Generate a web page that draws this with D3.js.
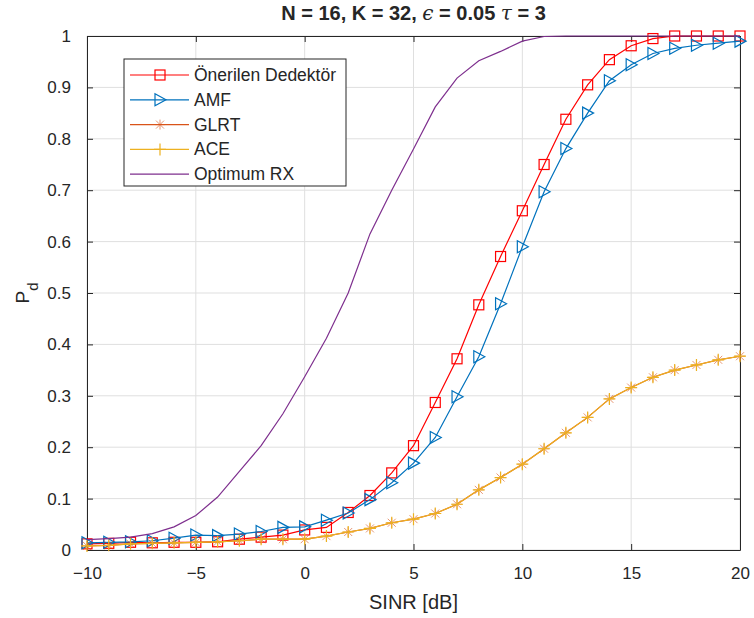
<!DOCTYPE html>
<html>
<head>
<meta charset="utf-8">
<script src="https://cdn.jsdelivr.net/npm/d3@7"></script>
<style>
  body { margin: 0; background: #fff; }
  text { font-family: "Liberation Sans", Arial, sans-serif; }
</style>
</head>
<body>
<div id="chart"></div>
<script>
const sinr = d3.range(-10, 21, 1);
const proposed = [0.012, 0.013, 0.015, 0.014, 0.015, 0.015, 0.016, 0.021, 0.025, 0.029, 0.039, 0.044, 0.073, 0.106, 0.150, 0.203, 0.287, 0.372, 0.477, 0.571, 0.660, 0.750, 0.838, 0.905, 0.954, 0.981, 0.995, 1.0, 1.0, 1.0, 1.0];
const amf = [0.014, 0.015, 0.016, 0.018, 0.023, 0.029, 0.028, 0.031, 0.036, 0.044, 0.045, 0.058, 0.072, 0.098, 0.131, 0.169, 0.219, 0.298, 0.376, 0.479, 0.590, 0.697, 0.781, 0.850, 0.913, 0.944, 0.966, 0.976, 0.982, 0.986, 0.990];
const glrt = [0.008, 0.009, 0.012, 0.013, 0.014, 0.015, 0.016, 0.018, 0.021, 0.021, 0.021, 0.027, 0.035, 0.042, 0.053, 0.060, 0.071, 0.089, 0.117, 0.141, 0.167, 0.197, 0.228, 0.258, 0.294, 0.316, 0.336, 0.350, 0.360, 0.370, 0.377];
const ace = [0.008, 0.009, 0.012, 0.013, 0.014, 0.015, 0.016, 0.018, 0.021, 0.021, 0.021, 0.027, 0.035, 0.042, 0.053, 0.060, 0.071, 0.089, 0.117, 0.141, 0.167, 0.197, 0.228, 0.258, 0.294, 0.316, 0.336, 0.350, 0.360, 0.370, 0.377];
const optimum = [0.020, 0.022, 0.025, 0.032, 0.045, 0.067, 0.103, 0.153, 0.203, 0.265, 0.337, 0.412, 0.500, 0.615, 0.700, 0.780, 0.862, 0.918, 0.952, 0.970, 0.990, 0.999, 1.0, 1.0, 1.0, 1.0, 1.0, 1.0, 1.0, 1.0, 1.0];

const xTicks = [-10, -5, 0, 5, 10, 15, 20];
const yTicks = d3.range(0, 1.01, 0.1);

const seriesList = [
  { name: 'Önerilen Dedektör', values: proposed, color: '#ff0000', marker: 'square' },
  { name: 'AMF', values: amf, color: '#0072bd', marker: 'triangle' },
  { name: 'GLRT', values: glrt, color: '#d95319', marker: 'star' },
  { name: 'ACE', values: ace, color: '#edb120', marker: 'plus' },
  { name: 'Optimum RX', values: optimum, color: '#7e2f8e', marker: null }
];

const W = 754, H = 618;
const margin = { top: 36, right: 14, bottom: 68, left: 87 };
const width = W - margin.left - margin.right;
const height = H - margin.top - margin.bottom;

const svg = d3.select('#chart')
  .append('svg')
  .attr('width', W)
  .attr('height', H);

const g = svg.append('g')
  .attr('transform', `translate(${margin.left},${margin.top})`);

const x = d3.scaleLinear().domain([-10, 20]).range([0, width]);
const y = d3.scaleLinear().domain([0, 1]).range([height, 0]);

// grid
g.append('g').selectAll('line').data(xTicks).join('line')
  .attr('x1', d => x(d)).attr('x2', d => x(d))
  .attr('y1', 0).attr('y2', height)
  .attr('stroke', '#dfdfdf').attr('stroke-width', 1);
g.append('g').selectAll('line').data(yTicks).join('line')
  .attr('x1', 0).attr('x2', width)
  .attr('y1', d => y(d)).attr('y2', d => y(d))
  .attr('stroke', '#dfdfdf').attr('stroke-width', 1);

// axes (ticks pointing inward, box on)
const axisColor = '#262626';
const styleAxis = sel => {
  sel.select('.domain').attr('stroke', axisColor);
  sel.selectAll('.tick line').attr('stroke', axisColor);
  sel.selectAll('.tick text').attr('fill', axisColor).style('font-size', '17px');
};

g.append('g')
  .attr('transform', `translate(0,${height})`)
  .call(d3.axisBottom(x).tickValues(xTicks).tickSizeInner(-6).tickSizeOuter(0).tickPadding(17))
  .call(styleAxis);
g.append('g')
  .call(d3.axisLeft(y).tickValues(yTicks).tickFormat(d3.format('~g')).tickSizeInner(-6).tickSizeOuter(0).tickPadding(16))
  .call(styleAxis);
g.append('g')
  .call(d3.axisTop(x).tickValues(xTicks).tickSizeInner(-6).tickSizeOuter(0).tickFormat(''))
  .call(styleAxis);
g.append('g')
  .attr('transform', `translate(${width},0)`)
  .call(d3.axisRight(y).tickValues(yTicks).tickSizeInner(-6).tickSizeOuter(0).tickFormat(''))
  .call(styleAxis);

// marker drawing
function drawMarker(sel, type, color) {
  if (type === 'square') {
    sel.append('rect').attr('x', -5).attr('y', -5).attr('width', 10).attr('height', 10)
      .attr('fill', 'none').attr('stroke', color).attr('stroke-width', 1.2);
  } else if (type === 'triangle') {
    sel.append('path').attr('d', 'M6,0L-5,-6L-5,6Z')
      .attr('fill', 'none').attr('stroke', color).attr('stroke-width', 1.2);
  } else if (type === 'star') {
    sel.append('path').attr('d', 'M-4,-4L4,4M-4,4L4,-4M0,-5L0,5M-5,0L5,0')
      .attr('stroke', color).attr('stroke-width', 1).attr('opacity', 0.6);
  } else if (type === 'plus') {
    sel.append('path').attr('d', 'M0,-6L0,6M-6,0L6,0')
      .attr('stroke', color).attr('stroke-width', 1.2);
  }
}

const line = d3.line()
  .x(d => x(d[0]))
  .y(d => y(d[1]));

seriesList.forEach(s => {
  const pts = sinr.map((v, i) => [v, s.values[i]]);
  g.append('path')
    .datum(pts)
    .attr('fill', 'none')
    .attr('stroke', s.color)
    .attr('stroke-width', 1.2)
    .attr('d', line);
  if (s.marker) {
    g.append('g').selectAll('g').data(pts).join('g')
      .attr('transform', d => `translate(${x(d[0])},${y(d[1])})`)
      .each(function() { drawMarker(d3.select(this), s.marker, s.color); });
  }
});

// legend
const legend = svg.append('g').attr('transform', 'translate(124,59)');
legend.append('rect')
  .attr('width', 222).attr('height', 127)
  .attr('fill', '#fff').attr('stroke', axisColor).attr('stroke-width', 1);
seriesList.forEach((s, i) => {
  const row = legend.append('g').attr('transform', `translate(0,${16 + i * 24.8})`);
  row.append('line').attr('x1', 6).attr('x2', 65).attr('y1', 0).attr('y2', 0)
    .attr('stroke', s.color).attr('stroke-width', 1.2);
  if (s.marker) {
    const m = row.append('g').attr('transform', 'translate(36,0)');
    drawMarker(m, s.marker, s.color);
  }
  row.append('text').attr('x', 70).attr('y', 6)
    .attr('fill', axisColor).style('font-size', '17.5px')
    .text(s.name);
});

// title
const title = svg.append('text')
  .attr('x', margin.left + width / 2).attr('y', 20)
  .attr('text-anchor', 'middle')
  .attr('fill', axisColor)
  .style('font-size', '20px').style('font-weight', 'bold');
title.append('tspan').text('N = 16, K = 32, ');
title.append('tspan').style('font-family', '"DejaVu Serif", serif').style('font-style', 'italic').style('font-weight', 'normal').text('ϵ');
title.append('tspan').text(' = 0.05 ');
title.append('tspan').style('font-family', '"DejaVu Serif", serif').style('font-style', 'italic').style('font-weight', 'normal').text('τ');
title.append('tspan').text(' = 3');

// axis labels
svg.append('text')
  .attr('x', margin.left + width / 2).attr('y', 609)
  .attr('text-anchor', 'middle')
  .attr('fill', axisColor)
  .style('font-size', '20px')
  .text('SINR [dB]');

const ylab = svg.append('text')
  .attr('transform', `translate(29,${margin.top + height / 2}) rotate(-90)`)
  .attr('text-anchor', 'middle')
  .attr('fill', axisColor)
  .style('font-size', '19px');
ylab.append('tspan').text('P');
ylab.append('tspan').attr('dy', 9).style('font-size', '15px').text('d');
</script>
</body>
</html>
